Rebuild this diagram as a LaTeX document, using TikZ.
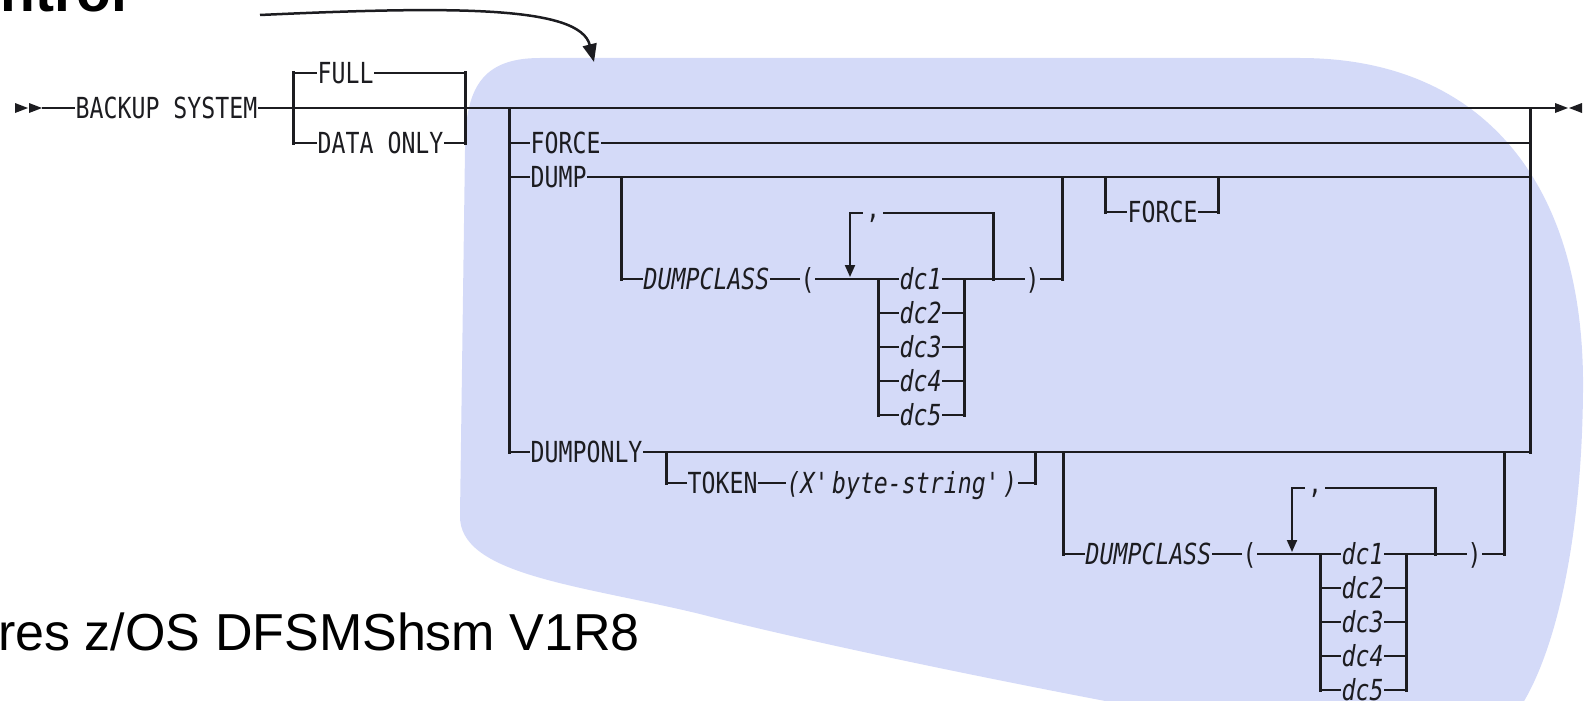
\documentclass[tikz,border=0pt]{standalone}
\usepackage{fontspec}
\usetikzlibrary{arrows.meta}
\newfontfamily\rrfont[FakeStretch=0.8,ItalicFont={DejaVu Sans Mono Oblique}]{DejaVu Sans Mono}
\newfontfamily\arialfont{Liberation Sans}
\definecolor{blobblue}{RGB}{212,218,248}
\definecolor{ink}{RGB}{28,28,32}
\tikzset{
 hl/.style={draw=ink, line width=2pt, line cap=rect},
 vl/.style={draw=ink, line width=3pt, line cap=rect},
 kw/.style={font=\rrfont\fontsize{29}{29}\selectfont, text=ink, inner xsep=1.5pt, inner ysep=0pt, text height=21.1pt, text depth=0pt, anchor=west},
 var/.style={kw, font=\rrfont\itshape\fontsize{29}{29}\selectfont},
 sepc/.style={kw, inner xsep=4pt},
 endmark/.style={fill=ink},
 looparrow/.style={hl, -{Triangle[length=12pt,width=10pt]}},
}
% repeated DUMPCLASS group: #1 name prefix, #2 x shift, #3 y shift
\newcommand\dcgrp[3]{%
\begin{scope}[shift={(#2,#3)}]
 \coordinate (#1tl) at (621,177);
 \coordinate (#1tr) at (1062,177);
 \node[var] (#1name) at (642,279) {DUMPCLASS};
 \node[kw] (#1lp) at (799,279) {(};
 \coordinate (#1dl) at (878,279);
 \coordinate (#1dr) at (964,279);
 \coordinate (#1lt) at (850,213);
 \coordinate (#1lb) at (850,277);
 \coordinate (#1rt) at (993,213);
 \node[sepc] (#1cm) at (862,208) {,};
 \node[kw] (#1rp) at (1024,279) {)};
 \foreach \i in {1,...,5} {\node[var] (#1dc\i) at (898,{279+34*(\i-1)}) {dc\i};}
 \draw[vl] (#1tl) -- (#1tl |- #1name.west);
 \draw[hl] (#1tl |- #1name.west) -- (#1name.west);
 \draw[hl] (#1name.east) -- (#1lp.west);
 \draw[hl] (#1lp.east) -- (#1dc1.west);
 \draw[hl] (#1dc1.east) -- (#1rp.west);
 \draw[hl] (#1rp.east) -- (#1tr |- #1rp.east);
 \draw[vl] (#1tr |- #1rp.east) -- (#1tr);
 \draw[hl] (#1lt) -- (#1lt -| #1cm.west);
 \draw[hl] (#1lt -| #1cm.east) -- (#1rt);
 \draw[vl] (#1rt) -- (#1rt |- #1dc1.west);
 \draw[looparrow] (#1lt) -- (#1lb);
 \draw[vl] (#1dl) -- (#1dl |- #1dc5.west);
 \draw[vl] (#1dr) -- (#1dr |- #1dc5.west);
 \foreach \i in {2,...,5} {\draw[hl] (#1dl |- #1dc\i.west) -- (#1dc\i.west);
   \draw[hl] (#1dc\i.east) -- (#1dr |- #1dc\i.west);}
\end{scope}}
\begin{document}
\begin{tikzpicture}[x=1pt,y=-1pt]
\useasboundingbox (0,0) rectangle (1590,701);
\begin{scope}
\clip (0,0) rectangle (1590,701);
% background blob
\fill[blobblue] (465,150) .. controls (465,88) and (482,58) .. (540,58) -- (1300,58)
  .. controls (1480,58) and (1585,180) .. (1583,390)
  .. controls (1582,540) and (1555,660) .. (1515,715) -- (1180,715)
  .. controls (1000,682) and (800,640) .. (700,614)
  .. controls (580,585) and (458,575) .. (460,515) -- cycle;
% clipped title and footer
\node[font=\arialfont\bfseries\fontsize{57}{57}\selectfont, anchor=base west, inner sep=0pt] (ttl) at (0,12) {ntrol};
\node[font=\arialfont\fontsize{52}{52}\selectfont, anchor=base east, inner sep=0pt] (req) at (640,650) {res z/OS DFSMShsm V1R8};
% pointer arrow
\coordinate (cs) at (260,15);
\coordinate (ce) at (594,62);
\draw[ink, line width=2.5pt, -{Triangle[length=18pt,width=14pt]}] (cs) .. controls (455,6) and (580,6) .. (ce);
% start / end marks
\coordinate (startpt) at (43,108);
\coordinate (endpt) at (1555,108);
\fill[endmark] (15,103) -- (28,108) -- (15,113) -- cycle;
\fill[endmark] (29,103) -- (42,108) -- (29,113) -- cycle;
\fill[endmark] (1555,103) -- (1568,108) -- (1555,113) -- cycle;
\fill[endmark] (1582,103) -- (1569,108) -- (1582,113) -- cycle;
% main line
\node[kw] (bs) at (74,108) {BACKUP SYSTEM};
\draw[hl] (startpt) -- (bs.west);
\draw[hl] (bs.east) -- (endpt);
% FULL / DATA ONLY
\coordinate (j1) at (293,108);
\coordinate (j2) at (465,108);
\node[kw] (full) at (316,73) {FULL};
\node[kw] (donly) at (316,143) {DATA ONLY};
\draw[vl] (full.west -| j1) -- (donly.west -| j1);
\draw[vl] (full.west -| j2) -- (donly.west -| j2);
\draw[hl] (full.west -| j1) -- (full.west);
\draw[hl] (full.east) -- (full.east -| j2);
\draw[hl] (donly.west -| j1) -- (donly.west);
\draw[hl] (donly.east) -- (donly.east -| j2);
% big choice
\coordinate (bigL) at (509,108);
\coordinate (bigR) at (1530,108);
\node[kw] (force) at (529,143) {FORCE};
\node[kw] (dump) at (529,177) {DUMP};
\node[kw] (dumponly) at (529,452) {DUMPONLY};
\draw[vl] (bigL) -- (bigL |- dumponly.west);
\draw[vl] (bigR) -- (bigR |- dumponly.west);
\draw[hl] (bigL |- force.west) -- (force.west);
\draw[hl] (force.east) -- (force.east -| bigR);
\draw[hl] (bigL |- dump.west) -- (dump.west);
\draw[hl] (dump.east) -- (dump.east -| bigR);
\draw[hl] (bigL |- dumponly.west) -- (dumponly.west);
\draw[hl] (dumponly.east) -- (dumponly.east -| bigR);
% DUMP: optional DUMPCLASS group
\dcgrp{a}{0}{0}
% DUMP: optional FORCE
\coordinate (fL) at (1105,177);
\coordinate (fR) at (1218,177);
\node[kw] (force2) at (1126,212) {FORCE};
\draw[vl] (fL) -- (fL |- force2.west);
\draw[hl] (fL |- force2.west) -- (force2.west);
\draw[hl] (force2.east) -- (fR |- force2.west);
\draw[vl] (fR |- force2.west) -- (fR);
% DUMPONLY: optional TOKEN
\coordinate (tL) at (666,452);
\coordinate (tR) at (1035,452);
\node[kw] (token) at (686,483) {TOKEN};
\node[var] (bstr) at (785,483) {(X\textquotesingle byte-string\textquotesingle)};
\draw[vl] (tL) -- (tL |- token.west);
\draw[hl] (tL |- token.west) -- (token.west);
\draw[hl] (token.east) -- (bstr.west);
\draw[hl] (bstr.east) -- (tR |- bstr.east);
\draw[vl] (tR |- bstr.east) -- (tR);
% DUMPONLY: optional DUMPCLASS group
\dcgrp{b}{442}{275}
\end{scope}
\end{tikzpicture}
\end{document}
